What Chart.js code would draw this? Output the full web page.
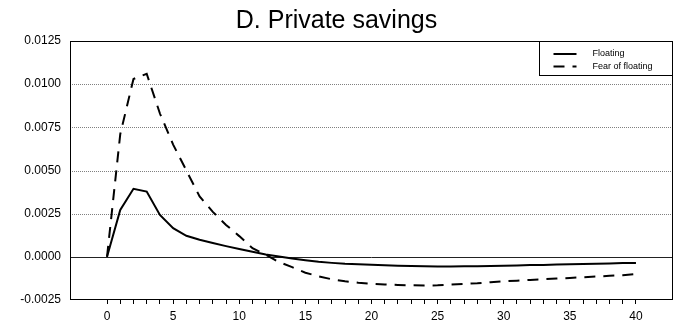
<!DOCTYPE html>
<html>
<head>
<meta charset="utf-8">
<script src="https://cdn.jsdelivr.net/npm/chart.js@4/dist/chart.umd.min.js"></script>
<style>
  html, body { margin: 0; padding: 0; background: #fff; }
  canvas { display: block; }
</style>
</head>
<body>
<canvas id="chart" width="683" height="326"></canvas>
<script>
// Quarters after the shock
const periods = [0, 1, 2, 3, 4, 5, 6, 7, 8, 9, 10, 11, 12, 13, 14, 15, 16, 17, 18, 19, 20,
                 21, 22, 23, 24, 25, 26, 27, 28, 29, 30, 31, 32, 33, 34, 35, 36, 37, 38, 39, 40];

// Response of private savings under a floating regime
const floating = [0, 0.00272, 0.00394, 0.00378, 0.00243, 0.00166, 0.00122, 0.00099, 0.00080, 0.00062,
                  0.00045, 0.00029, 0.00014, 0.00002, -0.00010, -0.00020, -0.00029, -0.00035, -0.00040, -0.00043,
                  -0.00046, -0.00049, -0.00051, -0.00053, -0.00055, -0.00056, -0.00056, -0.00055, -0.00054, -0.00053,
                  -0.00051, -0.00050, -0.00048, -0.00047, -0.00045, -0.00043, -0.00041, -0.00040, -0.00038, -0.00036,
                  -0.00035];

// Response of private savings under fear of floating
const fearOfFloating = [0, 0.0071, 0.0103, 0.0106, 0.0083, 0.0065, 0.0050, 0.0035, 0.0026, 0.00185,
                        0.0012, 0.0005, 0.00012, -0.0003, -0.0006, -0.00092, -0.00113, -0.0013, -0.00142, -0.0015,
                        -0.00156, -0.0016, -0.00163, -0.00165, -0.00166, -0.00165, -0.00161, -0.00157, -0.00153, -0.00147,
                        -0.00142, -0.00138, -0.00134, -0.0013, -0.00126, -0.00122, -0.00118, -0.00114, -0.0011, -0.00106,
                        -0.00100];

const seriesNames = ['Floating', 'Fear of floating'];
const yTicks = [-0.0025, 0, 0.0025, 0.005, 0.0075, 0.01, 0.0125];
const xTicks = periods;

const FONT = "'Liberation Sans', Arial, sans-serif";
const DASH = [11, 8];

// Dotted horizontal grid, solid zero line and a full frame round the plot
const framePlugin = {
  id: 'frame',
  beforeDatasetsDraw(chart) {
    const { ctx, chartArea: a, scales: { y } } = chart;
    ctx.save();
    ctx.lineWidth = 1;
    yTicks.forEach(v => {
      if (v <= y.min || v >= y.max) return;
      const py = Math.round(y.getPixelForValue(v)) + 0.5;
      ctx.beginPath();
      if (v === 0) {
        ctx.setLineDash([]);
        ctx.strokeStyle = '#222';
      } else {
        ctx.setLineDash([1, 1]);
        ctx.strokeStyle = '#808080';
      }
      ctx.moveTo(a.left, py);
      ctx.lineTo(a.right, py);
      ctx.stroke();
    });
    ctx.restore();
  },
  afterDatasetsDraw(chart) {
    const { ctx, chartArea: a } = chart;
    ctx.save();
    ctx.strokeStyle = '#000';
    ctx.lineWidth = 1;
    ctx.setLineDash([]);
    const l = Math.round(a.left) + 0.5, t = Math.round(a.top) + 0.5;
    const r = Math.round(a.right) - 0.5, b = Math.round(a.bottom) - 0.5;
    ctx.strokeRect(l, t, r - l, b - t);
    ctx.restore();
  }
};

// Boxed legend in the top-right corner of the plot
const boxLegendPlugin = {
  id: 'boxLegend',
  afterDatasetsDraw(chart) {
    const { ctx, chartArea: a } = chart;
    const right = Math.round(a.right) - 0.5;
    const top = Math.round(a.top) + 0.5;
    const left = right - 133;
    const bottom = top + 34;
    ctx.save();
    ctx.fillStyle = '#fff';
    ctx.fillRect(left, top, right - left, bottom - top);
    ctx.strokeStyle = '#000';
    ctx.lineWidth = 1;
    ctx.strokeRect(left, top, right - left, bottom - top);
    chart.data.datasets.forEach((ds, i) => {
      const cy = top + 12.5 + i * 12.5;
      ctx.beginPath();
      ctx.setLineDash(ds.borderDash || []);
      ctx.lineWidth = 2;
      ctx.strokeStyle = '#000';
      ctx.moveTo(left + 14, cy);
      ctx.lineTo(left + 37, cy);
      ctx.stroke();
      ctx.setLineDash([]);
      ctx.fillStyle = '#000';
      ctx.font = '9px ' + FONT;
      ctx.textBaseline = 'middle';
      ctx.textAlign = 'left';
      ctx.fillText(ds.label, left + 53, cy);
    });
    ctx.restore();
  }
};

const toPoints = vals => periods.map((p, i) => ({ x: p, y: vals[i] }));

new Chart(document.getElementById('chart'), {
  type: 'line',
  data: {
    datasets: [
      {
        label: seriesNames[0],
        data: toPoints(floating),
        borderColor: '#000',
        borderWidth: 2,
        pointRadius: 0,
        tension: 0,
        fill: false
      },
      {
        label: seriesNames[1],
        data: toPoints(fearOfFloating),
        borderColor: '#000',
        borderWidth: 2,
        borderDash: DASH,
        pointRadius: 0,
        tension: 0,
        fill: false
      }
    ]
  },
  options: {
    responsive: false,
    animation: false,
    devicePixelRatio: 1,
    layout: { padding: { left: 0, right: 10, top: 0, bottom: 0 } },
    plugins: {
      legend: { display: false },
      tooltip: { enabled: false },
      title: {
        display: true,
        text: 'D. Private savings',
        color: '#000',
        font: { family: FONT, size: 25, weight: 'normal' },
        padding: { top: 6, bottom: 5 }
      }
    },
    scales: {
      x: {
        type: 'linear',
        min: -2.8,
        max: 42.8,
        afterBuildTicks(scale) { scale.ticks = xTicks.map(v => ({ value: v })); },
        afterFit(scale) { scale.height = 26; },
        grid: {
          display: true,
          drawOnChartArea: false,
          drawTicks: true,
          tickLength: 4,
          color: '#000',
          tickColor: '#000',
          lineWidth: 1
        },
        border: { display: false },
        ticks: {
          autoSkip: false,
          maxRotation: 0,
          minRotation: 0,
          padding: 5,
          color: '#000',
          font: { family: FONT, size: 12 },
          callback: v => (v % 5 === 0 ? String(v) : '')
        }
      },
      y: {
        min: -0.0025,
        max: 0.0125,
        afterBuildTicks(scale) { scale.ticks = yTicks.map(v => ({ value: v })); },
        afterFit(scale) { scale.width = 70; },
        grid: { display: false, drawTicks: false },
        border: { display: false },
        ticks: {
          padding: 9,
          color: '#000',
          font: { family: FONT, size: 12 },
          callback: v => v.toFixed(4)
        }
      }
    }
  },
  plugins: [framePlugin, boxLegendPlugin]
});
</script>
</body>
</html>
